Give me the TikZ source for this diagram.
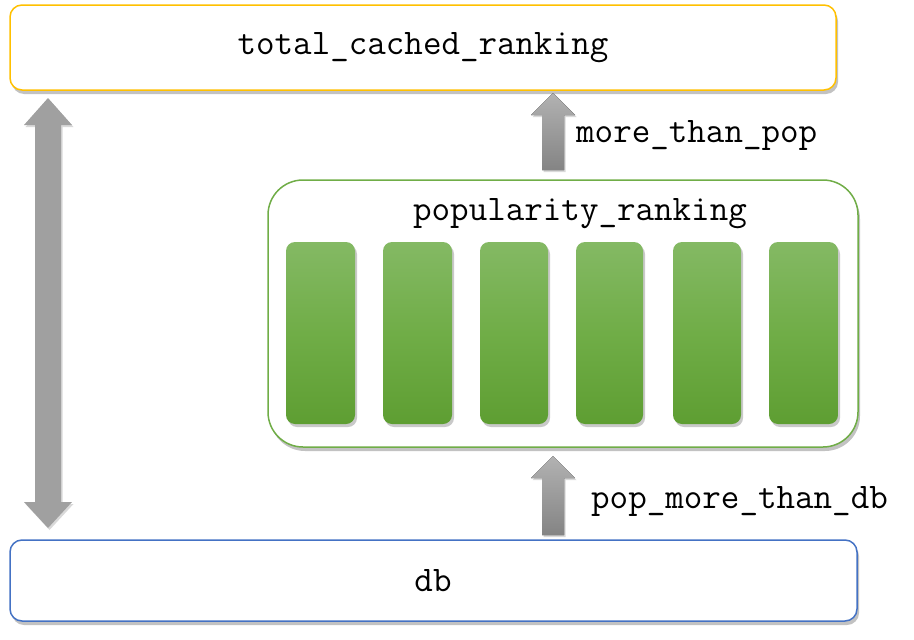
\documentclass[tikz,border=0pt]{standalone}
\usetikzlibrary{shadows,calc}
\definecolor{boxorange}{RGB}{255,192,0}
\definecolor{boxblue}{RGB}{68,114,196}
\definecolor{boxgreen}{RGB}{112,173,71}
\definecolor{bartop}{RGB}{132,185,100}
\definecolor{barmid}{RGB}{112,173,71}
\definecolor{barbot}{RGB}{94,158,50}
\definecolor{arrlight}{RGB}{178,178,178}
\definecolor{arrdark}{RGB}{132,132,132}
\definecolor{arrmid}{RGB}{160,160,160}
\tikzset{
  lbl/.style={font=\fontsize{36}{40}\selectfont\ttfamily, inner sep=0pt},
  mainbox/.style={draw, line width=1.5pt, fill=white, rounded corners=12pt,
    drop shadow={shadow xshift=2pt, shadow yshift=-4pt, opacity=0.4, fill=black!60}},
  poolbox/.style={draw=boxgreen, line width=1.5pt, fill=white, rounded corners=35pt,
    drop shadow={shadow xshift=2pt, shadow yshift=-4pt, opacity=0.4, fill=black!60}},
  bar/.style={rounded corners=9pt, top color=bartop, bottom color=barbot, middle color=barmid,
    drop shadow={shadow xshift=2pt, shadow yshift=-3pt, opacity=0.35, fill=black!60}},
  blockarrow/.style={top color=arrlight, bottom color=arrdark,
    drop shadow={shadow xshift=1.5pt, shadow yshift=-2pt, opacity=0.25, fill=black!60}},
  dblarrow/.style={fill=arrmid,
    drop shadow={shadow xshift=1.5pt, shadow yshift=-2pt, opacity=0.25, fill=black!60}}
}
\begin{document}
\begin{tikzpicture}[x=1pt,y=-1pt]
\useasboundingbox (0,0) rectangle (914,640);
% boxes
\draw[mainbox, draw=boxorange] (10,5) rectangle (836,90);
\node[lbl] (top) at (423,48) {total\_cached\_ranking};
\draw[mainbox, draw=boxblue] (10,540) rectangle (857,621);
\node[lbl] (db) at (433,581) {db};
\draw[poolbox] (268,180) rectangle (858,447);
\node[lbl] (pop) at (580,214) {popularity\_ranking};
% bars
\foreach \x/\w [count=\i] in {286/69,383/69,480/68,576/67,673/68,769/69}{
  \draw[bar, draw=none] (\x,242) rectangle ++(\w,182);
}
% left double arrow
\coordinate (L) at (48,0);
\fill[dblarrow] ($(L)+(0,98)$) -- ($(L)+(24,125)$) -- ($(L)+(13,125)$) -- ($(L)+(13,502)$)
  -- ($(L)+(24,502)$) -- ($(L)+(0,528)$) -- ($(L)+(-24,502)$) -- ($(L)+(-13,502)$)
  -- ($(L)+(-13,125)$) -- ($(L)+(-24,125)$) -- cycle;
% up arrow top
\coordinate (A) at (553,0);
\fill[blockarrow] ($(A)+(0,93)$) -- ($(A)+(22,115)$) -- ($(A)+(11,115)$) -- ($(A)+(11,170)$)
  -- ($(A)+(-11,170)$) -- ($(A)+(-11,115)$) -- ($(A)+(-22,115)$) -- cycle;
\node[lbl, anchor=west] (mtp) at (576,135) {more\_than\_pop};
% up arrow bottom
\fill[blockarrow] ($(A)+(0,456)$) -- ($(A)+(22,478)$) -- ($(A)+(11,478)$) -- ($(A)+(11,535)$)
  -- ($(A)+(-11,535)$) -- ($(A)+(-11,478)$) -- ($(A)+(-22,478)$) -- cycle;
\node[lbl, anchor=west] (pmtd) at (591,501) {pop\_more\_than\_db};
\end{tikzpicture}
\end{document}
